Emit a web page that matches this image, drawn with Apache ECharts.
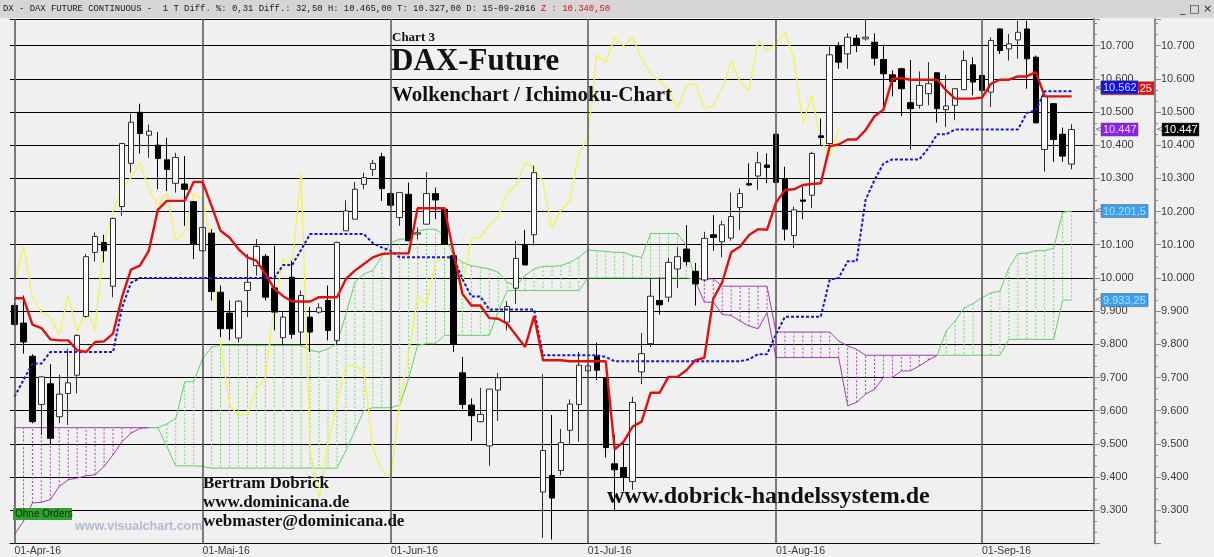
<!DOCTYPE html>
<html><head><meta charset="utf-8">
<script src="https://cdn.jsdelivr.net/npm/echarts@6.0.0/dist/echarts.min.js"></script>
<style>html,body{margin:0;padding:0;background:#f0f0f0;}#c{width:1214px;height:557px;}</style>
</head><body><div id="c"></div><script>
// ---- DATA ----
const tickIndex = [0, 21, 42, 64, 85, 108];
const tickLabels = ['01-Apr-16', '01-Mai-16', '01-Jun-16', '01-Jul-16', '01-Aug-16', '01-Sep-16'];
const slotCount = 121;
const yTicks = { min: 9200, max: 10780, step: 100 };

// [open, high, low, close]
const ohlc = [
[9917,9925,9855,9860],[9864,9947,9772,9807],[9764,9770,9562,9567],[9619,9705,9527,9702],[9681,9740,9497,9517],
[9582,9709,9562,9650],[9652,9787,9557,9684],[9707,9830,9652,9827],[9884,10072,9880,10064],[10077,10137,10049,10125],
[10107,10130,10047,10082],[9975,10182,9942,10179],[10215,10407,10187,10405],[10345,10495,10317,10469],[10499,10525,10375,10435],
[10430,10462,10362,10442],[10400,10439,10267,10360],[10356,10422,10262,10327],[10285,10377,10257,10363],[10283,10367,10157,10267],
[10230,10232,10057,10102],[10082,10152,10077,10152],[10135,10147,9932,9959],[9957,9977,9822,9847],[9894,9932,9812,9847],
[9819,9932,9805,9930],[9962,10072,9882,9987],[10037,10117,10007,10095],[10065,10072,9932,9942],[9970,10097,9842,9897],
[9820,9897,9797,9882],[10002,10052,9817,9830],[9837,9962,9797,9947],[9882,9912,9777,9837],[9897,9924,9892,9910],
[9932,9977,9812,9842],[9812,10109,9797,10107],[10142,10234,10142,10202],[10177,10289,10177,10267],[10282,10317,10267,10302],
[10327,10355,10307,10345],[10365,10377,10232,10269],[10254,10259,10210,10219],[10182,10257,10157,10257],[10252,10287,10110,10112],
[10132,10152,10117,10136],[10162,10319,10160,10254],[10254,10272,10177,10235],[10207,10212,10100,10102],[10067,10072,9777,9802],
[9714,9762,9605,9619],[9617,9637,9509,9585],[9567,9669,9565,9589],[9494,9665,9434,9665],[9662,9714,9569,9699],
[9867,9930,9842,9914],[9969,10112,9922,10059],[10099,10145,10039,10039],[10130,10339,10097,10317],[9355,9710,9217,9480],
[9405,9587,9212,9337],[9420,9545,9405,9504],[9541,9634,9499,9620],[9619,9777,9507,9737],[9720,9740,9715,9735],
[9764,9805,9692,9722],[9697,9697,9459,9489],[9440,9527,9297,9422],[9429,9507,9357,9399],[9387,9642,9362,9625],
[9717,9834,9680,9772],[9802,10000,9792,9945],[9932,10002,9890,9919],[9942,10062,9927,10047],[10027,10092,9969,10064],
[10087,10159,10037,10049],[10020,10045,9917,9982],[9994,10139,9989,10119],[10130,10189,10082,10122],[10109,10172,10062,10160],
[10120,10257,10112,10185],[10212,10270,10144,10254],[10284,10345,10277,10280],[10307,10380,10265,10347],[10340,10375,10285,10333],
[10433,10433,10285,10288],[10297,10335,10113,10147],[10128,10215,10090,10205],[10235,10275,10177,10231],[10249,10380,10210,10375],
[10428,10480,10400,10423],[10405,10700,10385,10672],[10697,10710,10630,10650],[10675,10737,10630,10725],[10722,10733,10680,10700],
[10720,10777,10715,10725],[10710,10737,10640,10662],[10658,10703,10515,10615],[10612,10625,10547,10592],[10630,10633,10488,10570],
[10528,10657,10387,10510],[10520,10622,10510,10580],[10555,10650,10520,10585],[10618,10618,10468,10510],[10507,10612,10455,10518],
[10520,10572,10475,10570],[10567,10685,10567,10655],[10642,10665,10550,10590],[10610,10612,10560,10565],[10560,10725,10515,10715],
[10750,10752,10675,10685],[10690,10735,10655,10705],[10717,10775,10660,10740],[10750,10775,10570,10660],[10665,10670,10467,10467],
[10387,10555,10320,10547],[10525,10525,10350,10417],[10433,10453,10350,10367],[10343,10463,10327,10447]
];

const tenkan = [9939,9939,9859,9849,9815,9812,9812,9782,9777,9807,
9809,9832,9942,10025,10037,10082,10205,10232,10232,10232,
10289,10289,10217,10142,10122,10087,10062,10052,10012,9967,
9945,9929,9929,9929,9942,9942,9942,9997,10022,10042,
10062,10072,10074,10074,10074,10210,10210,10210,10210,10077,
9952,9917,9917,9879,9877,9862,9827,9792,9885,9752,
9752,9752,9749,9749,9749,9749,9749,9484,9507,9552,
9567,9654,9654,9702,9702,9722,9752,9759,9937,9987,
10077,10095,10129,10147,10145,10227,10265,10267,10280,10283,
10285,10397,10402,10417,10417,10445,10487,10507,10600,10602,
10597,10597,10597,10597,10565,10540,10540,10540,10543,10585,
10597,10597,10607,10607,10620,10547,10547,10547,10547];

const kijun = [9642,9692,9742,9742,9777,9777,9777,9777,9777,9777,
9777,9777,9910,9985,10000,10000,10000,10000,10000,10000,
10000,10000,10000,10000,10000,10000,10000,10000,10000,10000,
10039,10039,10085,10132,10132,10132,10132,10132,10132,10132,
10105,10092,10082,10062,10062,10062,10062,10062,10062,10062,
9997,9944,9944,9905,9905,9905,9905,9905,9905,9767,
9767,9767,9767,9767,9767,9767,9762,9749,9749,9749,
9749,9749,9749,9749,9749,9749,9749,9749,9749,9749,
9749,9749,9755,9770,9770,9830,9883,9883,9883,9883,
9883,9995,10000,10050,10050,10235,10295,10345,10357,10357,
10357,10357,10390,10433,10433,10447,10447,10447,10447,10447,
10447,10447,10447,10497,10505,10562,10562,10562,10562];

const chikou = [9987,10095,9942,9897,9882,9830,9947,9837,9910,9842,
10107,10202,10267,10302,10345,10269,10219,10257,10112,10136,
10254,10235,10102,9802,9619,9585,9589,9665,9699,9914,
10059,10039,10317,9480,9337,9504,9620,9737,9735,9722,
9489,9422,9399,9625,9772,9945,9919,10047,10064,10049,
9982,10119,10122,10160,10185,10254,10280,10347,10333,10288,
10147,10205,10231,10375,10423,10672,10650,10725,10700,10725,
10662,10615,10592,10570,10510,10580,10585,10510,10518,10570,
10655,10590,10565,10715,10685,10705,10740,10660,10467,10547,
10417,10367,10447];

const senkouA = [9227,9267,9322,9324,9332,9372,9392,9397,9404,9407,
9432,9467,9507,9532,9547,9549,9549,9560,9577,9687,
9687,9757,9792,9797,9797,9797,9797,9797,9797,9797,
9797,9797,9797,9782,9777,9787,9802,9892,9987,10012,
10022,10065,10105,10117,10117,10142,10147,10147,10127,10067,
10047,10037,10032,10027,10017,9987,9977,10007,10027,10035,
10035,10037,10047,10062,10084,10082,10080,10077,10077,10067,
10062,10134,10134,10134,10134,10097,9990,9927,9927,9890,
9887,9870,9855,9847,9895,9760,9760,9760,9760,9760,
9760,9760,9760,9615,9625,9650,9665,9700,9700,9720,
9720,9735,9752,9767,9840,9870,9910,9923,9940,9955,
9960,10030,10073,10075,10082,10082,10090,10198,10201.5];

const senkouB = [9549,9549,9549,9549,9549,9549,9549,9549,9549,9549,
9549,9549,9549,9549,9549,9549,9549,9492,9434,9434,
9434,9432,9427,9427,9427,9427,9427,9427,9427,9427,
9427,9427,9427,9427,9427,9427,9427,9480,9540,9600,
9609,9609,9609,9617,9697,9797,9802,9802,9827,9827,
9827,9827,9827,9827,9900,9962,9962,9962,9962,9962,
9962,9962,9962,9962,10000,10000,10000,10000,10000,10000,
10000,10000,10000,10000,10000,10000,9997,9997,9997,9975,
9975,9975,9975,9975,9975,9837,9837,9837,9837,9837,
9837,9837,9810,9795,9785,9767,9767,9767,9767,9767,
9767,9767,9767,9767,9767,9767,9767,9767,9767,9767,
9767,9815,9815,9815,9815,9815,9815,9933,9933.25];

const markerValues = [10547.25, 10562, 10447, 10447, 10201.5, 9933.25];
const markerTexts  = ['10.547,25', '10.562', '10.447', '10.447', '10.201,5', '9.933,25'];

const headerText = 'DX - DAX FUTURE CONTINUOUS -  1 T Diff. %: 0,31 Diff.: 32,50 H: 10.465,00 T: 10.327,00 D: 15-09-2016 ';
const headerLast = 'Z : 10.340,50';

// ---- CHART ----
const categories = [];
for (let i = 0; i < slotCount; i++) {
  const k = tickIndex.indexOf(i);
  categories.push(k >= 0 ? tickLabels[k] : 'd' + i);
}
const candleData = ohlc.map(r => [r[0], r[3], r[2], r[1]]);

function fmt(v) {
  const t = Math.floor(v / 1000), r = Math.round(v % 1000);
  return t + '.' + String(r).padStart(3, '0');
}

const GREEN_HATCH = '#6fdc6f', GREEN_EDGE = '#62d462';
const PURP_HATCH = '#b23fc6', PURP_EDGE = '#a53ab8';

function renderCloud(params, api) {
  const i = params.dataIndex;
  const a = senkouA[i], b = senkouB[i];
  const pa = api.coord([i, a]), pb = api.coord([i, b]);
  const children = [];
  const up = a >= b;
  if (Math.abs(pa[1] - pb[1]) > 0.5) {
    children.push({ type: 'line', shape: { x1: pa[0], y1: pa[1], x2: pb[0], y2: pb[1] },
      style: { stroke: up ? GREEN_HATCH : PURP_HATCH, lineWidth: 1, lineDash: [2, 2] } });
  }
  if (i + 1 < senkouA.length) {
    const a2 = senkouA[i + 1], b2 = senkouB[i + 1];
    const qa = api.coord([i + 1, a2]), qb = api.coord([i + 1, b2]);
    const segUp = (a - b) + (a2 - b2) >= 0;
    const col = segUp ? GREEN_EDGE : PURP_EDGE;
    children.push({ type: 'line', shape: { x1: pa[0], y1: pa[1], x2: qa[0], y2: qa[1] }, style: { stroke: col, lineWidth: 1 } });
    children.push({ type: 'line', shape: { x1: pb[0], y1: pb[1], x2: qb[0], y2: qb[1] }, style: { stroke: col, lineWidth: 1 } });
  }
  return { type: 'group', children };
}

function yAxisCfg(offset, split) {
  return {
    type: 'value', position: 'right', offset: offset,
    min: yTicks.min, max: yTicks.max, interval: yTicks.step,
    axisLine: { show: true, onZero: false, lineStyle: { color: '#8c8c8c', width: 2 } },
    axisTick: { show: true, length: 6, lineStyle: { color: '#8c8c8c' } },
    minorTick: { show: true, splitNumber: 3, length: 3, lineStyle: { color: '#8c8c8c' } },
    splitLine: { show: split, lineStyle: { color: '#000', width: 1 } },
    axisLabel: { show: true, margin: 6, color: '#3a3a3a', fontSize: 11, fontFamily: 'Liberation Sans',
      showMinLabel: false, showMaxLabel: false, formatter: v => fmt(v) }
  };
}

const chart = echarts.init(document.getElementById('c'), null, { renderer: 'canvas' });
chart.setOption({
  animation: false,
  backgroundColor: '#f0f0f0',
  grid: { left: 10, right: 120, top: 19, bottom: 13.5 },
  xAxis: {
    type: 'category', data: categories, boundaryGap: true,
    axisLine: { show: true, lineStyle: { color: '#111' } },
    axisTick: { show: false },
    splitLine: { show: false },
    axisLabel: {
      interval: (i) => tickIndex.indexOf(i) >= 0,
      align: 'left', margin: 2, color: '#3a3a3a', fontSize: 10.5, fontFamily: 'Liberation Sans',
      formatter: v => v
    }
  },
  yAxis: [yAxisCfg(0, true), yAxisCfg(61, false)],
  series: [
    {
      type: 'custom', name: 'Wolke', renderItem: renderCloud, z: 1, silent: true,
      data: senkouA.map((a, i) => [i, a, senkouB[i]]),
      encode: { x: 0, y: [1, 2] }
    },
    {
      type: 'line', name: 'Chikou', data: chikou, showSymbol: false, z: 2, silent: true,
      lineStyle: { color: '#f3f35c', width: 1.4 }
    },
    {
      type: 'candlestick', name: 'DAX', data: candleData, barWidth: 6, z: 3,
      itemStyle: { color: '#ffffff', color0: '#000000', borderColor: '#2e2e2e', borderColor0: '#000000', borderWidth: 1 },
      markLine: {
        silent: true, symbol: ['none', 'none'], animation: false,
        label: { show: false },
        lineStyle: { color: '#555', width: 1.5, type: 'solid' },
        data: tickLabels.map(l => ({ xAxis: l }))
      }
    },
    {
      type: 'line', name: 'Kijun', data: kijun, showSymbol: false, z: 4, silent: true,
      lineStyle: { color: '#1616cc', width: 2, type: [3, 2] }
    },
    {
      type: 'line', name: 'Tenkan', data: tenkan, showSymbol: false, z: 5, silent: true,
      lineStyle: { color: '#e01010', width: 2.4 }
    }
  ]
});

// ---- overlays ----
const gx = 10 + (1214 - 10 - 120);  // right edge of grid
const mStyle = [
  { col: 0, w: 53, bg: '#e81212', fg: '#ffffff', dy: -8 },
  { col: 0, w: 37, bg: '#1212e6', fg: '#dcdcff', dy: -4 },
  { col: 0, w: 37, bg: '#8a22e8', fg: '#ffc8ff', dy: 0 },
  { col: 1, w: 37, bg: '#000000', fg: '#ffffff', dy: 0 },
  { col: 0, w: 47, bg: '#3c9ff0', fg: '#aee0ff', dy: 0 },
  { col: 0, w: 47, bg: '#3c9ff0', fg: '#aee0ff', dy: 0 }
];
const g = [];
// header bar
g.push({ type: 'rect', x: 0, y: 0, shape: { width: 1214, height: 18 }, style: { fill: '#d6d6d6' }, z: 100 });
const ctx = document.createElement('canvas').getContext('2d');
const hFont = '8.9px "Liberation Mono"';
ctx.font = hFont;
const hw = ctx.measureText(headerText).width;
g.push({ type: 'text', x: 3, y: 9, style: { text: headerText, font: hFont, fill: '#1a1a1a', verticalAlign: 'middle' }, z: 101 });
g.push({ type: 'text', x: 3 + hw, y: 9, style: { text: headerLast, font: hFont, fill: '#e01010', verticalAlign: 'middle' }, z: 101 });
g.push({ type: 'text', x: 1180, y: 9, style: { text: '_ \u25A1 \u00D7', font: '11px "DejaVu Sans"', fill: '#222', verticalAlign: 'middle' }, z: 101 });

// titles
const serif = '"Liberation Serif", "DejaVu Serif", serif';
g.push({ type: 'text', x: 392, y: 38, style: { text: 'Chart 3', font: 'bold 13px ' + serif, fill: '#111', verticalAlign: 'middle' }, z: 100 });
g.push({ type: 'text', x: 391, y: 62, style: { text: 'DAX-Future', font: 'bold 31px ' + serif, fill: '#111', verticalAlign: 'middle' }, z: 100 });
g.push({ type: 'text', x: 392, y: 96, style: { text: 'Wolkenchart / Ichimoku-Chart', font: 'bold 21px ' + serif, fill: '#111', verticalAlign: 'middle' }, z: 100 });
g.push({ type: 'text', x: 203, y: 484, style: { text: 'Bertram Dobrick', font: 'bold 17px ' + serif, fill: '#111', verticalAlign: 'middle' }, z: 100 });
g.push({ type: 'text', x: 203, y: 503, style: { text: 'www.dominicana.de', font: 'bold 17px ' + serif, fill: '#111', verticalAlign: 'middle' }, z: 100 });
g.push({ type: 'text', x: 203, y: 522, style: { text: 'webmaster@dominicana.de', font: 'bold 17px ' + serif, fill: '#111', verticalAlign: 'middle' }, z: 100 });
g.push({ type: 'text', x: 607, y: 497, style: { text: 'www.dobrick-handelssystem.de', font: 'bold 24px ' + serif, fill: '#111', verticalAlign: 'middle' }, z: 100 });
g.push({ type: 'text', x: 75, y: 527, style: { text: 'www.visualchart.com', font: 'bold 12.5px "Liberation Sans"', fill: '#b2bad6', verticalAlign: 'middle' }, z: 99 });
g.push({ type: 'rect', x: 13, y: 508, shape: { width: 59, height: 12 }, style: { fill: '#2f9f2f' }, z: 100 });
g.push({ type: 'text', x: 15, y: 514.5, style: { text: 'Ohne Orders', font: '10px "Liberation Sans"', fill: '#0c2a0c', verticalAlign: 'middle' }, z: 101 });

// price markers on the right axis
markerValues.forEach((v, k) => {
  const s = mStyle[k];
  const y = chart.convertToPixel({ yAxisIndex: 0 }, v) + s.dy;
  const ax = gx + s.col * 61;
  g.push({ type: 'text', x: ax + 1, y: y, style: { text: '<', font: '9px "DejaVu Sans"', fill: '#777', verticalAlign: 'middle' }, z: 110 });
  g.push({ type: 'rect', x: ax + 7, y: y - 6.5, shape: { width: s.w, height: 13 }, style: { fill: s.bg, stroke: '#555', lineWidth: 0.5 }, z: 110 + k });
  g.push({ type: 'text', x: ax + 9, y: y + 0.5, style: { text: markerTexts[k], font: '11px "Liberation Sans"', fill: s.fg, verticalAlign: 'middle' }, z: 110 + k });
});
chart.setOption({ graphic: g });
</script></body></html>
